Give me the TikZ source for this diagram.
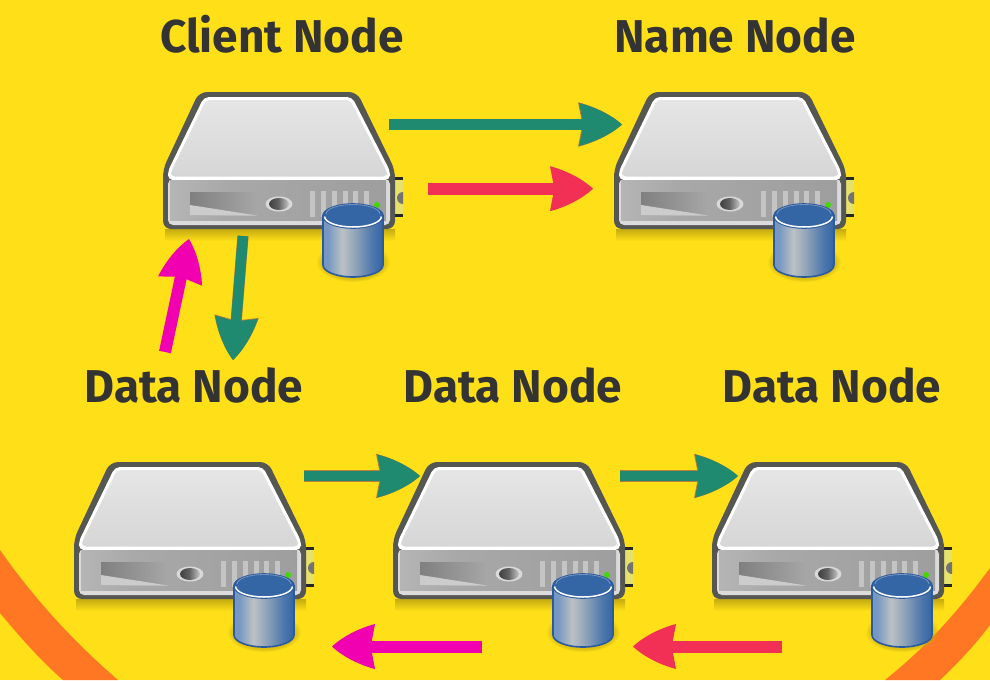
\documentclass[tikz,border=0pt]{standalone}
\usepackage{fontspec}
\setmainfont{Fira Sans}
\usetikzlibrary{arrows.meta,fadings}
\definecolor{bgyellow}{HTML}{FFDF18}
\definecolor{bandorange}{HTML}{FF7722}
\definecolor{tealarrow}{HTML}{1F8A70}
\definecolor{redarrow}{HTML}{F22F55}
\definecolor{magarrow}{HTML}{F000B0}
\definecolor{labelgray}{HTML}{333333}
\definecolor{outlinegray}{HTML}{555753}
\definecolor{shadowy}{HTML}{C4AB10}
\definecolor{cylblue}{HTML}{3465A4}
\definecolor{cyledge}{HTML}{2C5A9E}
\definecolor{cylA}{HTML}{7597C2}
\definecolor{cylB}{HTML}{BCC2C4}
\definecolor{cylC}{HTML}{8FA3B8}
\definecolor{cylD}{HTML}{4E78AC}
\pgfdeclarehorizontalshading{cylbody}{100bp}{
 color(0bp)=(cylA); color(29bp)=(cylA); color(41bp)=(cylB);
 color(52bp)=(cylC); color(66bp)=(cylD); color(75bp)=(cylblue); color(100bp)=(cylblue)}
\pgfdeclarehorizontalshading{panelbody}{100bp}{
 color(0bp)=(gray!58!white); color(25bp)=(gray!58!white); color(38bp)=(gray!68!white); color(75bp)=(gray!76!white); color(100bp)=(gray!76!white)}
\pgfdeclarehorizontalshading{baybody}{100bp}{
 color(0bp)=(gray!100!white); color(25bp)=(gray!100!white); color(75bp)=(gray!69!white); color(100bp)=(gray!69!white)}
\pgfdeclarehorizontalshading{btnbody}{100bp}{
 color(0bp)=(black!75); color(25bp)=(black!75); color(48bp)=(black!62); color(75bp)=(black!22); color(100bp)=(black!22)}
\pgfdeclarearrow{
 name=CurvedHead,
 parameters={\the\pgfarrowlength,\the\pgfarrowwidth},
 setup code={
  \pgfarrowssettipend{0pt}
  \pgfarrowssetbackend{-\pgfarrowlength}
  \pgfarrowssetvisualbackend{-.9\pgfarrowlength}
  \pgfarrowssetlineend{-.8\pgfarrowlength}
  \pgfarrowshullpoint{0pt}{0pt}
  \pgfarrowshullpoint{-\pgfarrowlength}{.5\pgfarrowwidth}
  \pgfarrowshullpoint{-\pgfarrowlength}{-.5\pgfarrowwidth}
  \pgfarrowssavethe\pgfarrowlength
  \pgfarrowssavethe\pgfarrowwidth
 },
 drawing code={
  \pgfpathmoveto{\pgfpoint{0pt}{0pt}}
  \pgfpathcurveto{\pgfpoint{-.28\pgfarrowlength}{.25\pgfarrowwidth}}
                 {\pgfpoint{-.68\pgfarrowlength}{.42\pgfarrowwidth}}
                 {\pgfpoint{-\pgfarrowlength}{.5\pgfarrowwidth}}
  \pgfpathlineto{\pgfpoint{-.9\pgfarrowlength}{0pt}}
  \pgfpathlineto{\pgfpoint{-\pgfarrowlength}{-.5\pgfarrowwidth}}
  \pgfpathcurveto{\pgfpoint{-.68\pgfarrowlength}{-.42\pgfarrowwidth}}
                 {\pgfpoint{-.28\pgfarrowlength}{-.25\pgfarrowwidth}}
                 {\pgfpoint{0pt}{0pt}}
  \pgfpathclose
  \pgfusepathqfill
 }
}
\tikzset{
 srvbox/.style={inner sep=0pt,minimum width=232pt,minimum height=137pt},
 lbl/.style={font=\fontsize{46}{50}\selectfont\bfseries,text=labelgray,anchor=base,inner sep=0pt},
 tealflow/.style={draw=tealarrow,line width=10.5pt,-{CurvedHead[length=43pt,width=43pt]},
   preaction={draw=bandorange!70!tealarrow,line width=11.2pt,-{CurvedHead[length=44pt,width=44.5pt]}}},
 redflow/.style={draw=redarrow,line width=12pt,-{CurvedHead[length=43pt,width=45pt]}},
 magflow/.style={draw=magarrow,line width=12pt,-{CurvedHead[length=43pt,width=45pt]}},
 server/.pic={
  \begin{scope}[shift={(-279,-160.5)}]
   % ground shadow
   \shade[top color=shadowy,bottom color=bgyellow] (165,229) rectangle (395,241);
   % rear connector
   \fill[yellow!70!gray!75!white] (394,178) rectangle (403,216);
   \fill[black!85] (394,176.5) rectangle (403,180);
   \fill[black!85] (394,213.5) rectangle (403,217);
   \begin{scope}
    \clip (394,180) rectangle (403,214);
    \fill[black!55] (403,198) ellipse (6 and 6);
   \end{scope}
   % outer casing
   \fill[outlinegray,rounded corners=8pt] (163,169) -- (199,92) -- (357,92) -- (395,170) -- (395,229) -- (163,229) -- cycle;
   % top face
   \fill[white,rounded corners=5pt] (168,180) -- (168,171) -- (204,97) -- (352,97) -- (390,171) -- (390,180) -- cycle;
   \shade[top color=black!10,bottom color=black!16,rounded corners=4pt] (171,176.5) -- (171,172) -- (206,100) -- (350,100) -- (387,172) -- (387,176.5) -- cycle;
   % front face
   \fill[black!14,rounded corners=5pt] (168,179) -- (390,179) -- (390,225) -- (168,225) -- cycle;
   \fill[white] (172,178) rectangle (386,180.5);
   \shade[shading=panelbody] (170,180.5) rectangle (386,220);
   % drive bay
   \shade[shading=baybody] (190,192) -- (258,192) -- (258,215) -- (190,215) -- cycle;
   \fill[black!20] (190,205) -- (257,215.5) -- (190,215.5) -- cycle;
   % button
   \fill[black!15] (279,204) ellipse (13.5 and 7.5);
   \shade[shading=btnbody] (279,204) ellipse (10 and 6);
   % vents
   \foreach \vx in {310,321,332,343,353,364}
     \fill[black!23] (\vx,191) rectangle ++(5,26);
   % LED
   \fill[green!70!yellow!85!black] (377,205) circle (3);
   % cylinder shadow
   \fill[shadowy,opacity=.55,path fading=circle with fuzzy edge 15 percent] (353,262) ellipse (37 and 20);
   % cylinder
   \shade[shading=cylbody,draw=cyledge,line width=1.6pt] (323,216) -- (323,265) arc[start angle=180,end angle=0,x radius=30,y radius=12] -- (383,216) -- cycle;
   \fill[cylblue,draw=cyledge,line width=1.6pt] (353,216) ellipse (30 and 12);
   \draw[white,line width=1.5pt] (324.6,216.5) arc[start angle=180,end angle=0,x radius=28.4,y radius=10.5];
   \draw[white,opacity=.35,line width=.8pt] (326,214) arc[start angle=180,end angle=360,x radius=27,y radius=9.5];
  \end{scope}
 }
}
\begin{document}
\begin{tikzpicture}[x=1pt,y=-1pt]
\useasboundingbox (0,0) rectangle (990,680);
\fill[bgyellow] (0,0) rectangle (990,680);
% orange bands
\fill[bandorange] (0,550) .. controls (35,600) and (75,643) .. (118,680) -- (63,680) .. controls (40,660) and (20,637) .. (0,613) -- cycle;
\fill[bandorange] (990,568) .. controls (958,612) and (925,648) .. (885,680) -- (940,680) .. controls (958,663) and (975,645) .. (990,625) -- cycle;
% servers
\node[srvbox] (client) at (279,160.5) {};
\node[srvbox] (namenode) at (730,160.5) {};
\node[srvbox] (dataA) at (190,530.5) {};
\node[srvbox] (dataB) at (509,530.5) {};
\node[srvbox] (dataC) at (828,530.5) {};
\foreach \s in {client,namenode,dataA,dataB,dataC}
  \pic at (\s.center) {server};
% labels
\node[lbl] (lclient) at (282,52) {Client Node};
\node[lbl] (lname) at (735,52) {Name Node};
\node[lbl] (lA) at (194,402) {Data Node};
\node[lbl] (lB) at (513,402) {Data Node};
\node[lbl] (lC) at (832,402) {Data Node};
% connector ends
\coordinate (a1) at (389,124.5); \coordinate (a2) at (622,124.5);
\coordinate (b1) at (428,188.7); \coordinate (b2) at (593,188.7);
\coordinate (c1) at (165,352); \coordinate (c2) at (189,239);
\coordinate (d1) at (243,236); \coordinate (d2) at (233,360);
\coordinate (e1) at (304,476); \coordinate (e2) at (420,476);
\coordinate (f1) at (620,476); \coordinate (f2) at (738,476);
\coordinate (g1) at (482,646.5); \coordinate (g2) at (332,646.5);
\coordinate (h1) at (782,646.5); \coordinate (h2) at (633,646.5);
% connectors
\draw[tealflow] (a1) -- (a2);
\draw[redflow] (b1) -- (b2);
\draw[magflow] (c1) -- (c2);
\draw[tealflow] (d1) -- (d2);
\draw[tealflow] (e1) -- (e2);
\draw[tealflow] (f1) -- (f2);
\draw[magflow] (g1) -- (g2);
\draw[redflow] (h1) -- (h2);
\end{tikzpicture}
\end{document}
